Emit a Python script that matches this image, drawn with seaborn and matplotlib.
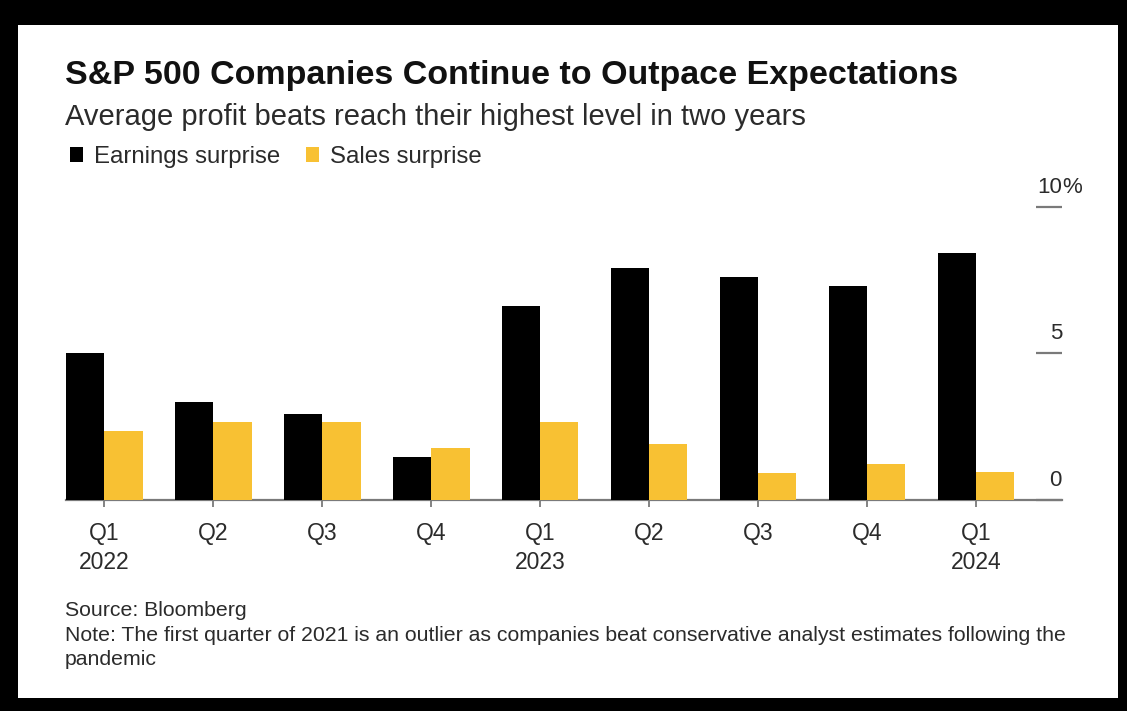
import matplotlib
matplotlib.use("Agg")
import matplotlib.pyplot as plt
import matplotlib.transforms as mtransforms
from matplotlib.patches import Rectangle
import seaborn as sns
import pandas as pd

# Quarterly average surprise (%) versus analyst estimates
quarters = ["Q1 2022", "Q2 2022", "Q3 2022", "Q4 2022",
            "Q1 2023", "Q2 2023", "Q3 2023", "Q4 2023", "Q1 2024"]
tick_labels = ["Q1\n2022", "Q2", "Q3", "Q4", "Q1\n2023", "Q2", "Q3", "Q4", "Q1\n2024"]
earnings_surprise = [5.0, 3.35, 2.92, 1.48, 6.61, 7.92, 7.61, 7.30, 8.42]
sales_surprise = [2.35, 2.66, 2.66, 1.78, 2.67, 1.91, 0.93, 1.23, 0.95]
series_names = ["Earnings surprise", "Sales surprise"]
y_ticks = [0, 5, 10]
y_tick_labels = ["0", "5", "10"]

BLACK = "#000000"
YELLOW = "#F8C133"
AXIS_GRAY = "#7a7a7a"
TEXT = "#2b2b2b"

df = pd.DataFrame({
    "quarter": quarters * 2,
    "series": [series_names[0]] * len(quarters) + [series_names[1]] * len(quarters),
    "value": earnings_surprise + sales_surprise,
})

sns.set_theme(style="white")
plt.rcParams["font.family"] = ["Liberation Sans", "DejaVu Sans"]

W, H = 1127, 711
fig = plt.figure(figsize=(W / 100, H / 100), dpi=100)
fig.patch.set_facecolor("black")

# white card inside the dark frame
fig.add_artist(Rectangle((18 / W, 1 - 698 / H), (1118 - 18) / W, (698 - 25) / H,
                         transform=fig.transFigure, facecolor="white",
                         edgecolor="none", zorder=-5))

ax_left, ax_right = 66 / W, 1062 / W
ax_bottom, ax_top = 1 - 500 / H, 1 - 206.7 / H
ax = fig.add_axes([ax_left, ax_bottom, ax_right - ax_left, ax_top - ax_bottom])
ax.set_facecolor("none")

sns.barplot(data=df, x="quarter", y="value", hue="series", order=quarters,
            hue_order=series_names, palette=[BLACK, YELLOW], saturation=1,
            width=0.704, gap=0, errorbar=None, linewidth=0, ax=ax)

ax.set_xlim(-0.352, 8.79)
ax.set_ylim(0, 10)
ax.set_xlabel("")
ax.set_ylabel("")

for side in ["top", "left", "right"]:
    ax.spines[side].set_visible(False)
ax.spines["bottom"].set_color(AXIS_GRAY)
ax.spines["bottom"].set_linewidth(1.6)
ax.spines["bottom"].set_zorder(0.5)

ax.set_xticks(range(len(quarters)))
ax.set_xticklabels(tick_labels, fontsize=16.5, color=TEXT, linespacing=1.3)
ax.tick_params(axis="x", direction="out", length=5, width=1.3, color=AXIS_GRAY,
               pad=11, bottom=True)

ax.set_yticks(y_ticks)
ax.tick_params(axis="y", direction="in", length=18.5, width=1.6, color=AXIS_GRAY,
               left=False, right=True, labelleft=False, labelright=False)

# value labels sit just above the inward ticks on the right edge
blend = mtransforms.blended_transform_factory(ax.transAxes, ax.transData)
for v, lab in zip(y_ticks, y_tick_labels):
    ax.annotate(lab, xy=(1.0, v), xycoords=blend, xytext=(0, 10),
                textcoords="offset points", ha="right", va="baseline",
                fontsize=16, color=TEXT, annotation_clip=False)
ax.annotate("%", xy=(1.0, y_ticks[-1]), xycoords=blend, xytext=(0, 10),
            textcoords="offset points", ha="left", va="baseline",
            fontsize=16, color=TEXT, annotation_clip=False)

handles, labels = ax.get_legend_handles_labels()
ax.get_legend().remove()
fig.legend(handles, labels, loc="center left",
           bbox_to_anchor=(70 / W, 1 - 157 / H), ncol=2, frameon=False,
           fontsize=17.3, handlelength=0.55, handleheight=0.55,
           handletextpad=0.45, columnspacing=1.05, borderpad=0,
           borderaxespad=0, labelcolor=TEXT)

fig.text(65 / W, 1 - 84 / H, "S&P 500 Companies Continue to Outpace Expectations",
         fontsize=24.5, fontweight="bold", color="#111111", va="baseline")
fig.text(65 / W, 1 - 125 / H, "Average profit beats reach their highest level in two years",
         fontsize=21, color=TEXT, va="baseline")

fig.text(65 / W, 1 - 616 / H, "Source: Bloomberg", fontsize=15.35, color=TEXT, va="baseline")
fig.text(65 / W, 1 - 641 / H,
         "Note: The first quarter of 2021 is an outlier as companies beat conservative "
         "analyst estimates following the", fontsize=15.35, color=TEXT, va="baseline")
fig.text(65 / W, 1 - 665 / H, "pandemic", fontsize=15.35, color=TEXT, va="baseline")

fig.savefig("out.png", dpi=100, facecolor=fig.get_facecolor())
